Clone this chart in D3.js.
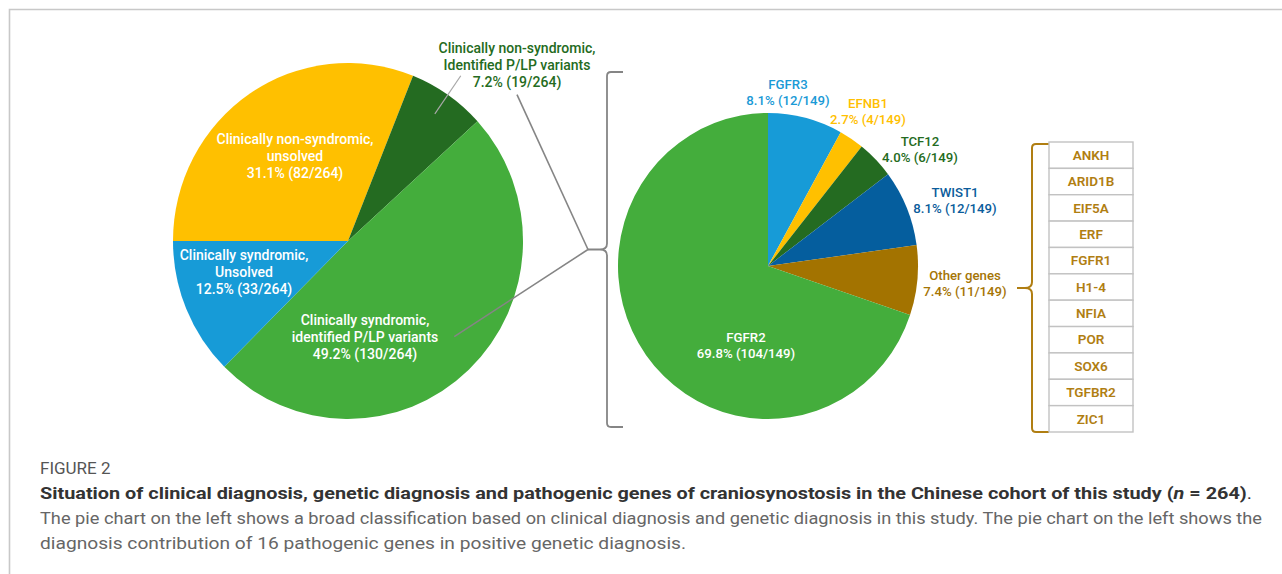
<!DOCTYPE html>
<html><head><meta charset="utf-8">
<script src="https://cdn.jsdelivr.net/npm/d3@7"></script>
<style>
body{margin:0;background:#fff}
svg{display:block}
text{font-family:Roboto,"Liberation Sans",sans-serif}
</style>
</head><body>
<svg id="chart" width="1282" height="574"></svg>
<script>
// ---------------- DATA ----------------
const leftCategories = [
  "Clinically non-syndromic, unsolved",
  "Clinically non-syndromic, Identified P/LP variants",
  "Clinically syndromic, identified P/LP variants",
  "Clinically syndromic, Unsolved"
];
const leftLabelLines = [
  ["Clinically non-syndromic,", "unsolved"],
  ["Clinically non-syndromic,", "Identified P/LP variants"],
  ["Clinically syndromic,", "identified P/LP variants"],
  ["Clinically syndromic,", "Unsolved"]
];
const leftCounts = [82, 19, 130, 33];
const leftTotal = 264;

const rightGenes = ["FGFR3", "EFNB1", "TCF12", "TWIST1", "Other genes", "FGFR2"];
const rightCounts = [12, 4, 6, 12, 11, 104];
const rightTotal = 149;

const otherGenes = ["ANKH", "ARID1B", "EIF5A", "ERF", "FGFR1", "H1-4", "NFIA", "POR", "SOX6", "TGFBR2", "ZIC1"];

const captionTitle = "FIGURE 2";
const captionBold = ["Situation of clinical diagnosis, genetic diagnosis and pathogenic genes of craniosynostosis in the Chinese cohort of this study (", "n", " = 264)"];
const captionLines = [
  "The pie chart on the left shows a broad classification based on clinical diagnosis and genetic diagnosis in this study. The pie chart on the left shows the",
  "diagnosis contribution of 16 pathogenic genes in positive genetic diagnosis."
];

// ---------------- STYLE / LAYOUT ----------------
const leftColors = ["#FFC000", "#246B21", "#44AD3C", "#179BD7"];
const leftLabelColors = ["#ffffff", "#246B21", "#ffffff", "#ffffff"];
const rightColors = ["#179BD7", "#FFC000", "#246B21", "#055E9E", "#A37300", "#44AD3C"];
const rightLabelColors = ["#1A9AD6", "#FFC000", "#246B21", "#0A5C9B", "#A57505", "#ffffff"];
const brown = "#B07E12";

const L = {cx: 348, cy: 241, rx: 175, ry: 178};
const R = {cx: 768, cy: 266, rx: 150, ry: 153};
// label first-line centres relative to pie centre
const leftLabelOff = [[-53, -102], [169, -193], [17, 79], [-104, 14]];
const rightLabelOff = [[20, -182], [100, -163], [152, -125], [187, -74], [197, 9], [-22, 71]];
const lineH = 16.8;

const svg = d3.select("#chart");

// frame
svg.append("path").attr("d", "M9.5,574 L9.5,9.5 L1282,9.5")
  .attr("fill", "none").attr("stroke", "#c8c8c8").attr("stroke-width", 1.6);

const pct = (c, t) => (c / t * 100).toFixed(1) + "% (" + c + "/" + t + ")";

function drawPie(P, counts, colors, startAngle) {
  const arcs = d3.pie().sort(null).value(d => d)
    .startAngle(startAngle).endAngle(startAngle + 2 * Math.PI)(counts);
  const arc = d3.arc().innerRadius(0).outerRadius(P.rx);
  const g = svg.append("g")
    .attr("transform", `translate(${P.cx},${P.cy}) scale(1,${P.ry / P.rx})`);
  g.selectAll("path").data(arcs).join("path")
    .attr("d", arc).attr("fill", (d, i) => colors[i]);
  return arcs;
}

const leftArcs = drawPie(L, leftCounts, leftColors, -Math.PI / 2);
const rightArcs = drawPie(R, rightCounts, rightColors, 0);

function polar(P, a, k) {
  return [P.cx + Math.sin(a) * P.rx * k, P.cy - Math.cos(a) * P.ry * k];
}

function drawLabel(x, y, lines, color, size, weight) {
  const t = svg.append("text").attr("text-anchor", "middle")
    .attr("fill", color).style("font-size", size + "px").style("font-weight", weight);
  lines.forEach((s, i) => {
    t.append("tspan").attr("x", x).attr("y", y + i * lineH).attr("dy", "0.35em").text(s);
  });
  return t;
}

// left labels
const leftTexts = leftCounts.map((c, i) => drawLabel(
  L.cx + leftLabelOff[i][0], L.cy + leftLabelOff[i][1],
  leftLabelLines[i].concat([pct(c, leftTotal)]), leftLabelColors[i], 14, 500));

// right labels
rightCounts.forEach((c, i) => drawLabel(
  R.cx + rightLabelOff[i][0], R.cy + rightLabelOff[i][1],
  [rightGenes[i], pct(c, rightTotal)], rightLabelColors[i], 13.2, 500));

// curly brace
function brace(x, y0, y1, tipX, hookX, color, w) {
  const ym = (y0 + y1) / 2, r = 4, dir = Math.sign(hookX - x);
  const d = `M${hookX},${y0} L${x + dir * r},${y0} Q${x},${y0} ${x},${y0 + r}` +
    ` L${x},${ym - 6} Q${x},${ym} ${x - 7},${ym} L${tipX},${ym}` +
    ` M${x - 7},${ym} Q${x},${ym} ${x},${ym + 6} L${x},${y1 - r} Q${x},${y1} ${x + dir * r},${y1} L${hookX},${y1}`;
  svg.append("path").attr("d", d).attr("fill", "none")
    .attr("stroke", color).attr("stroke-width", w).attr("stroke-linejoin", "round");
  return [tipX, ym];
}
const tipL = brace(607, 72, 427, 588, 623, "#858585", 1.8);

// inner leader in non-syndromic identified slice
const a1 = (leftArcs[1].startAngle + leftArcs[1].endAngle) / 2;
const p0 = polar(L, a1, 0.87), p1 = polar(L, a1, 1.13);
svg.append("line").attr("x1", p0[0]).attr("y1", p0[1]).attr("x2", p1[0]).attr("y2", p1[1])
  .attr("stroke", "#a8a8a8").attr("stroke-width", 1.2);

// leaders to brace tip
const dg = [L.cx + leftLabelOff[1][0], L.cy + leftLabelOff[1][1] + 2 * lineH + 13];
svg.append("line").attr("x1", dg[0]).attr("y1", dg[1]).attr("x2", tipL[0]).attr("y2", tipL[1])
  .attr("stroke", "#858585").attr("stroke-width", 1.6);
const gl = leftTexts[2].selectAll("tspan").nodes()[1].getBBox();
svg.append("line").attr("x1", gl.x + gl.width + 16).attr("y1", gl.y + gl.height / 2)
  .attr("x2", tipL[0]).attr("y2", tipL[1])
  .attr("stroke", "#858585").attr("stroke-width", 1.6);

// brown brace and gene box
brace(1032, 144, 432, 1017, 1049, brown, 2);
const yb = d3.scaleBand().domain(otherGenes).range([142, 432]);
const boxX0 = 1049, boxX1 = 1133;
const rows = svg.append("g");
rows.selectAll("rect").data(otherGenes).join("rect")
  .attr("x", boxX0).attr("y", d => yb(d)).attr("width", boxX1 - boxX0).attr("height", yb.bandwidth())
  .attr("fill", "#fff").attr("stroke", "#c2c2c2").attr("stroke-width", 1.4);
rows.selectAll("text").data(otherGenes).join("text")
  .attr("x", (boxX0 + boxX1) / 2).attr("y", d => yb(d) + yb.bandwidth() / 2).attr("dy", "0.35em")
  .attr("text-anchor", "middle").attr("fill", brown)
  .style("font-size", "13.5px").style("font-weight", 600).text(d => d);

// caption
const cap = svg.append("g").style("font-family", "'Open Sans',Roboto,sans-serif");
cap.append("text").attr("x", 40).attr("y", 474).attr("fill", "#555")
  .style("font-size", "17px").text(captionTitle);
const tb = cap.append("text").attr("x", 40).attr("y", 499).attr("fill", "#333")
  .style("font-size", "17px").style("font-weight", 700)
  .attr("textLength", 1212).attr("lengthAdjust", "spacingAndGlyphs");
tb.append("tspan").text(captionBold[0]);
tb.append("tspan").style("font-style", "italic").text(captionBold[1]);
tb.append("tspan").text(captionBold[2]);
tb.append("tspan").style("font-weight", 400).text(".");
cap.append("text").attr("x", 40).attr("y", 524).attr("fill", "#666")
  .style("font-size", "17px").attr("textLength", 1222).attr("lengthAdjust", "spacingAndGlyphs")
  .text(captionLines[0]);
cap.append("text").attr("x", 40).attr("y", 549).attr("fill", "#666")
  .style("font-size", "17px").attr("textLength", 646).attr("lengthAdjust", "spacingAndGlyphs")
  .text(captionLines[1]);
</script>
</body></html>
